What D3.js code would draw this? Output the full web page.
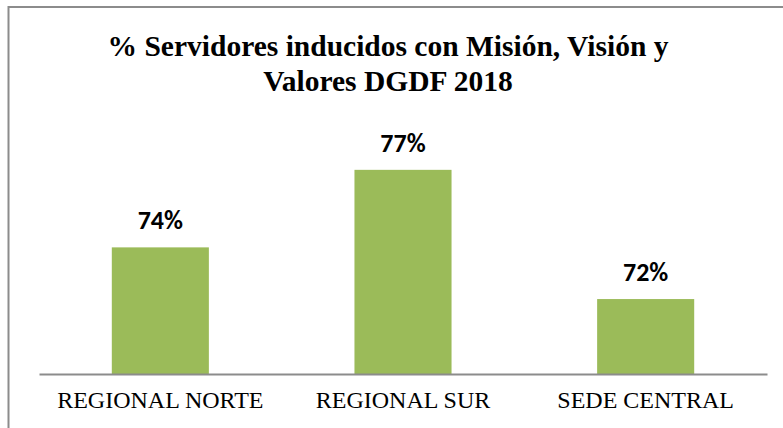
<!DOCTYPE html>
<html>
<head>
<meta charset="utf-8">
<script src="https://cdn.jsdelivr.net/npm/d3@7"></script>
<style>
  body { margin: 0; background: #fff; }
</style>
</head>
<body>
<div id="chart"></div>
<script>
var svgWidth = 783;
var svgHeight = 428;

// data
var categories = ["REGIONAL NORTE", "REGIONAL SUR", "SEDE CENTRAL"];
var values = [74, 77, 72];
var valueLabels = ["74%", "77%", "72%"];
var titleLines = ["% Servidores inducidos con Misión, Visión y", "Valores DGDF 2018"];

var margin = { top: 144, right: 16, bottom: 54, left: 39 };
var width = svgWidth - margin.left - margin.right;
var height = svgHeight - margin.top - margin.bottom;

var svg = d3.select("#chart")
  .append("svg")
  .attr("width", svgWidth)
  .attr("height", svgHeight);

// outer frame (runs off the right and bottom edges)
svg.append("rect")
  .attr("x", 8.5)
  .attr("y", 7)
  .attr("width", 800)
  .attr("height", 440)
  .attr("fill", "none")
  .attr("stroke", "#8c8c8c")
  .attr("stroke-width", 2);

// title
svg.append("text")
  .attr("x", 388)
  .attr("y", 56)
  .attr("text-anchor", "middle")
  .attr("font-family", "'Liberation Serif', 'Times New Roman', serif")
  .attr("font-weight", "bold")
  .attr("font-size", "29.5px")
  .attr("fill", "#000")
  .selectAll("tspan")
  .data(titleLines)
  .enter()
  .append("tspan")
  .attr("x", 388)
  .attr("dy", (d, i) => i === 0 ? 0 : 35)
  .text(d => d);

var chartG = svg.append("g")
  .attr("transform", `translate(${margin.left}, ${margin.top})`);

var xBand = d3.scaleBand()
  .domain(categories)
  .range([0, width])
  .paddingInner(0.6)
  .paddingOuter(0.3);

var yLinear = d3.scaleLinear()
  .domain([69.1, 78])
  .range([height, 0]);

chartG.selectAll("rect.bar")
  .data(values)
  .enter()
  .append("rect")
  .attr("class", "bar")
  .attr("x", (d, i) => xBand(categories[i]))
  .attr("y", d => yLinear(d))
  .attr("width", xBand.bandwidth())
  .attr("height", d => height - yLinear(d))
  .attr("fill", "#9bbb59");

chartG.selectAll("text.val")
  .data(values)
  .enter()
  .append("text")
  .attr("class", "val")
  .attr("x", (d, i) => xBand(categories[i]) + xBand.bandwidth() / 2)
  .attr("y", d => yLinear(d) - 18)
  .attr("text-anchor", "middle")
  .attr("font-family", "Carlito, 'Open Sans', sans-serif")
  .attr("font-weight", "bold")
  .attr("font-size", "26px")
  .attr("fill", "#000")
  .text((d, i) => valueLabels[i]);

// x axis
var bottomAxis = d3.axisBottom(xBand).tickSize(0).tickPadding(17);
var xAxisG = chartG.append("g")
  .attr("transform", `translate(0, ${height})`)
  .call(bottomAxis);
xAxisG.select(".domain")
  .attr("stroke", "#8c8c8c")
  .attr("stroke-width", 2);
xAxisG.selectAll("text")
  .attr("font-family", "'Liberation Serif', 'Times New Roman', serif")
  .attr("font-size", "24px")
  .attr("fill", "#000");
</script>
</body>
</html>
